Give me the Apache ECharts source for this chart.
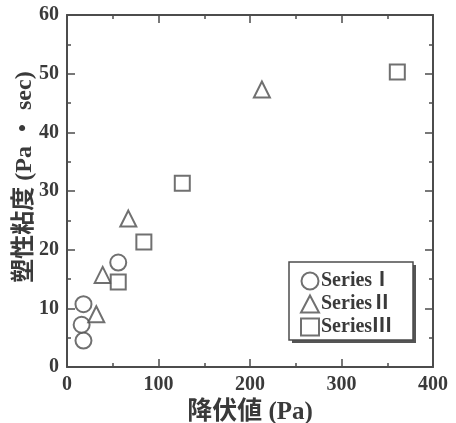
<!DOCTYPE html>
<html>
<head>
<meta charset="utf-8">
<script src="https://cdn.jsdelivr.net/npm/echarts@6/dist/echarts.min.js"></script>
<style>
  html, body { margin: 0; padding: 0; background: #fff; }
  #chart { width: 456px; height: 423px; }
</style>
</head>
<body>
<div id="chart"></div>
<script>
// Yield value (Pa) vs plastic viscosity (Pa·sec) for three series
const seriesNames = ['SeriesⅠ', 'SeriesⅡ', 'SeriesⅢ'];
const seriesSymbols = ['circle', 'triangle', 'rect'];

const series1X = [18, 16, 18, 56];
const series1Y = [4.5, 7.2, 10.7, 17.8];

const series2X = [32, 39, 67, 213];
const series2Y = [9.0, 15.7, 25.3, 47.3];

const series3X = [56, 84, 126, 361];
const series3Y = [14.5, 21.3, 31.3, 50.3];

const xTicks = [0, 100, 200, 300, 400];
const yTicks = [0, 10, 20, 30, 40, 50, 60];

const ink = '#4c4c4c';
const textInk = '#3a3a3a';
const fontFam = '"Liberation Serif", "Noto Sans CJK JP", serif';

function pairs(xs, ys) {
  return xs.map((x, i) => [x, ys[i]]);
}

const allX = [series1X, series2X, series3X];
const allY = [series1Y, series2Y, series3Y];

function frameAxis(extra) {
  return Object.assign({
    type: 'value',
    axisLine: { show: true, onZero: false, lineStyle: { color: ink, width: 2 } },
    axisTick: { show: true, inside: true, length: 8, lineStyle: { color: ink, width: 1.5 } },
    minorTick: { show: true, splitNumber: 2, length: 4, lineStyle: { color: ink, width: 1.5 } },
    splitLine: { show: false }
  }, extra);
}

const labelStyle = { fontFamily: fontFam, fontWeight: 'bold', fontSize: 20, color: textInk };
const nameStyle = { fontFamily: fontFam, fontWeight: 'bold', fontSize: 25, color: textInk };

// legend frame with a hard drop shadow
const legendBox = { x: 289, y: 262, width: 124, height: 78 };

const chart = echarts.init(document.getElementById('chart'), null, { renderer: 'canvas' });

chart.setOption({
  animation: false,
  backgroundColor: '#fff',
  grid: { left: 67, top: 15, right: 23, bottom: 56, containLabel: false, outerBoundsMode: 'none' },
  xAxis: [
    frameAxis({
      position: 'bottom',
      min: xTicks[0], max: xTicks[xTicks.length - 1], interval: 100,
      name: '降伏値 (Pa)', nameLocation: 'middle', nameGap: 27,
      nameTextStyle: nameStyle,
      axisLabel: Object.assign({ margin: 8 }, labelStyle)
    }),
    frameAxis({
      position: 'top',
      min: xTicks[0], max: xTicks[xTicks.length - 1], interval: 100,
      axisLabel: { show: false }
    })
  ],
  yAxis: [
    frameAxis({
      position: 'left',
      min: yTicks[0], max: yTicks[yTicks.length - 1], interval: 10,
      name: '塑性粘度 (Pa ・ sec)', nameLocation: 'middle', nameGap: 30, nameRotate: 90,
      nameMoveOverlap: false,
      nameTextStyle: Object.assign({}, nameStyle, { fontSize: 24, padding: [0, 0, 0, 28] }),
      axisLabel: Object.assign({ margin: 8 }, labelStyle)
    }),
    frameAxis({
      position: 'right',
      min: yTicks[0], max: yTicks[yTicks.length - 1], interval: 10,
      axisLabel: { show: false }
    })
  ],
  graphic: [
    {
      type: 'rect',
      z: 1,
      shape: { x: legendBox.x + 3, y: legendBox.y + 3, width: legendBox.width, height: legendBox.height },
      style: { fill: '#555', stroke: null }
    },
    {
      type: 'rect',
      z: 2,
      shape: { x: legendBox.x, y: legendBox.y, width: legendBox.width, height: legendBox.height },
      style: { fill: '#fff', stroke: ink, lineWidth: 1.5 }
    }
  ],
  legend: {
    orient: 'vertical',
    left: 291, top: 264,
    padding: [7, 10, 7, 9],
    itemGap: 3,
    itemWidth: 18, itemHeight: 17,
    z: 5,
    textStyle: { fontFamily: fontFam, fontWeight: 'bold', fontSize: 20, color: textInk, padding: [0, 0, 0, -3] },
    data: seriesNames.map((n, i) => ({ name: n, icon: seriesSymbols[i] }))
  },
  series: seriesNames.map((n, i) => ({
    name: n,
    type: 'scatter',
    xAxisIndex: 0, yAxisIndex: 0,
    symbol: seriesSymbols[i],
    symbolSize: i === 2 ? 15 : 16,
    itemStyle: { color: '#fff', borderColor: ink, borderWidth: 2 },
    data: pairs(allX[i], allY[i])
  }))
});
</script>
</body>
</html>
